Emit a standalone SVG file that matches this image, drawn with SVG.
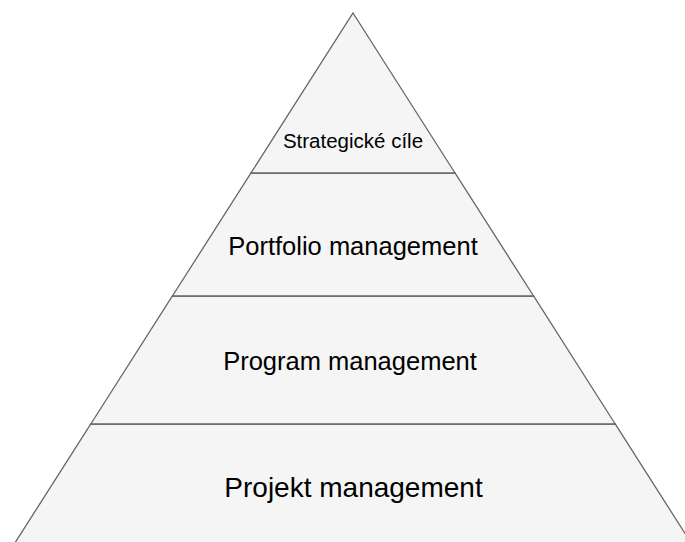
<svg xmlns="http://www.w3.org/2000/svg" width="685" height="542" viewBox="0 0 685 542">
  <style>
    .layer { fill: #f5f5f5; stroke: #666666; stroke-width: 1.3; stroke-linejoin: miter; }
    .lbl { font-family: "Liberation Sans", Arial, sans-serif; fill: #000000; text-anchor: middle; }
  </style>
  <rect x="0" y="0" width="685" height="542" fill="#ffffff"/>
  <g id="layer-projekt">
    <polygon class="layer" points="90.8,424 615.2,424 702,560 4,560"/>
    <text class="lbl" x="353.5" y="497" font-size="28">Projekt management</text>
  </g>
  <g id="layer-program">
    <polygon class="layer" points="172.4,296 533.6,296 615.2,424 90.8,424"/>
    <text class="lbl" x="350" y="370" font-size="25.5">Program management</text>
  </g>
  <g id="layer-portfolio">
    <polygon class="layer" points="251,173 455,173 533.6,296 172.4,296"/>
    <text class="lbl" x="353" y="255" font-size="25.5">Portfolio management</text>
  </g>
  <g id="layer-strategicke">
    <polygon class="layer" points="353,13 455,173 251,173"/>
    <text class="lbl" x="353" y="148" font-size="20.5">Strategické cíle</text>
  </g>
  <g id="connectors"></g>
</svg>
